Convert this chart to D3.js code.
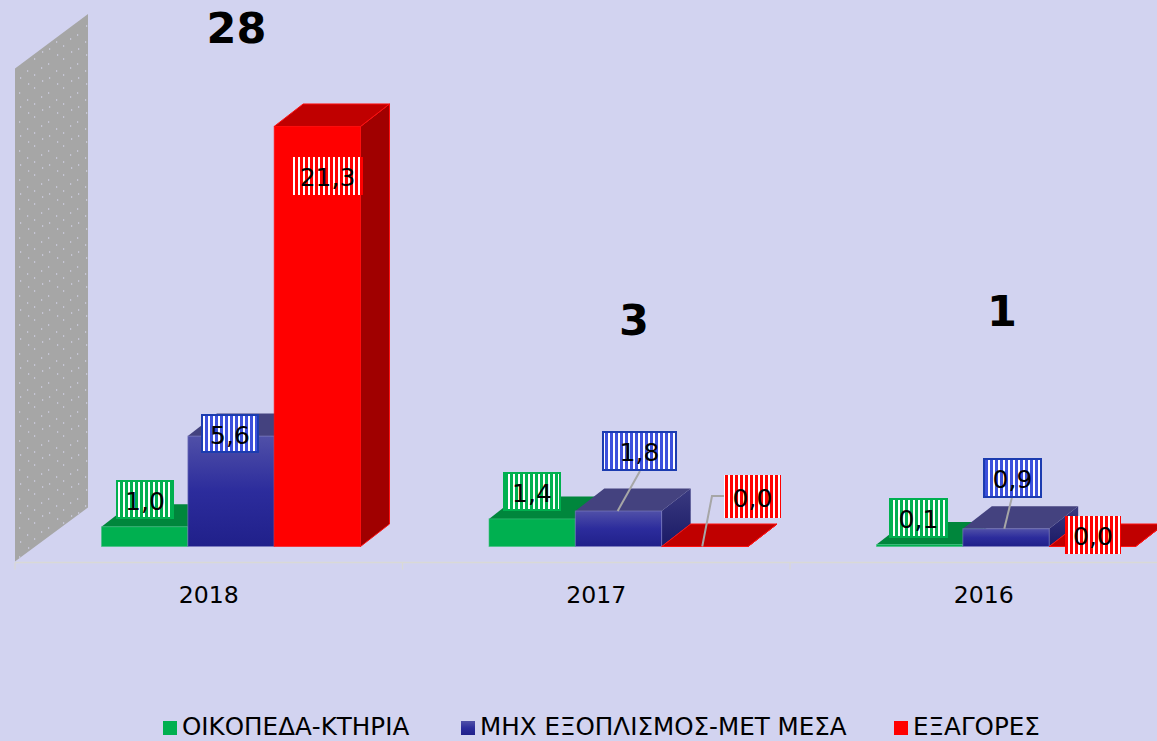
<!DOCTYPE html>
<html><head><meta charset="utf-8">
<script src="https://cdn.jsdelivr.net/npm/d3@7"></script>
<style>html,body{margin:0;padding:0;background:#D2D3F0;overflow:hidden}svg{display:block}text{font-family:"DejaVu Sans",sans-serif;fill:#000}</style>
</head><body><svg id="c" width="1157" height="741"></svg>
<script>
const years = ["2018","2017","2016"];
const seriesNames = ["ΟΙΚΟΠΕΔΑ-ΚΤΗΡΙΑ","ΜΗΧ ΕΞΟΠΛΙΣΜΟΣ-ΜΕΤ ΜΕΣΑ","ΕΞΑΓΟΡΕΣ"];
const oikopeda = [1.0,1.4,0.1];
const michanimata = [5.6,1.8,0.9];
const exagores = [21.3,0.0,0.0];
const totals = [28,3,1];
const seriesValues = [oikopeda,michanimata,exagores];

const W=1157,H=741,dx=29,dy=-22.5;
const svg=d3.select("#c");
const defs=svg.append("defs");
const x0=d3.scaleBand().domain(years).range([15,1177.5]);
const x1=d3.scaleBand().domain(seriesNames).range([86.5,345.5]);
const y=d3.scaleLinear().domain([0,25]).range([546.5,53.5]);
const fmt=v=>v.toFixed(1).replace(".",",");

// paints
const skins=[
 {front:"#00B050",top:"#00863C",side:"#006F32",edge:"#3FBF7F",stripe:"#00B050",border:"#00B050"},
 {front:"url(#gFront)",top:"#44427F",side:"url(#gSide)",edge:"#7F7FBF",stripe:"#3C50DC",border:"#1C3CB0"},
 {front:"#FF0000",top:"#C00000",side:"#A00000",edge:"#FF1010",stripe:"#FF0000",border:"none"}
];
const g1=defs.append("linearGradient").attr("id","gFront").attr("x1",0).attr("y1",0).attr("x2",0).attr("y2",1);
[[0,"#5050A8"],[.5,"#2C2C9C"],[1,"#20208A"]].forEach(s=>g1.append("stop").attr("offset",s[0]).attr("stop-color",s[1]));
const g2=defs.append("linearGradient").attr("id","gSide").attr("x1",0).attr("y1",0).attr("x2",0).attr("y2",1);
[[0,"#3A3A80"],[1,"#1A1A66"]].forEach(s=>g2.append("stop").attr("offset",s[0]).attr("stop-color",s[1]));
skins.forEach((s,i)=>{
  const p=defs.append("pattern").attr("id","st"+i).attr("patternUnits","userSpaceOnUse").attr("width",5).attr("height",5);
  p.append("rect").attr("width",5).attr("height",5).attr("fill","#fff");
  p.append("rect").attr("width",3).attr("height",5).attr("fill",s.stripe);
});
const dots=defs.append("pattern").attr("id","wallDots").attr("patternUnits","userSpaceOnUse").attr("width",29).attr("height",29)
  .attr("patternTransform","translate(15,0)");
dots.append("rect").attr("width",29).attr("height",29).attr("fill","#A6A6A6");
[[4,5],[19,0],[12,12],[26,9],[5,19],[19,16],[13,25],[27,22]].forEach(d=>dots.append("rect").attr("x",d[0]).attr("y",d[1]).attr("width",1.2).attr("height",2).attr("fill","#C4C4D2"));

// wall
const wx=x0.range()[0],wb=y(0)+15,wt=wb-(y(0)-y(25));
svg.append("polygon").attr("fill","url(#wallDots)")
  .attr("points",[[wx,wb],[wx,wt],[wx+73,wt-54.5],[wx+73,wb-54]].join(" "));

// axis
const axis=svg.append("g").attr("transform","translate(0,562.5)");
axis.append("line").attr("x1",15).attr("x2",W).attr("stroke","#D9D9D6").attr("stroke-width",1.5);
years.forEach(d=>{const x=x0(d);axis.append("line").attr("x1",x).attr("x2",x).attr("y1",0).attr("y2",7).attr("stroke","#D9D9D6").attr("stroke-width",1.2)});
axis.selectAll("text.t").data(years).join("text").attr("class","t")
  .attr("x",d=>x0(d)+x0.bandwidth()/2).attr("y",40).attr("text-anchor","middle").attr("font-size",23.6).text(d=>d);

// bars
const poly=pts=>pts.map(p=>p.join(",")).join(" ");
years.forEach((yr,yi)=>{
  seriesNames.forEach((nm,si)=>{
    const v=seriesValues[si][yi],s=skins[si];
    const l=x0(yr)+x1(nm),r=l+x1.bandwidth(),b=y(0),t=y(v);
    const g=svg.append("g");
    g.append("polygon").attr("points",poly([[r,b],[r,t],[r+dx,t+dy],[r+dx,b+dy]])).attr("fill",s.side).attr("stroke",si==2?s.edge:"none");
    g.append("polygon").attr("points",poly([[l,t],[r,t],[r+dx,t+dy],[l+dx,t+dy]])).attr("fill",s.top).attr("stroke",si==2?s.edge:"none");
    if(b-t>0.5) g.append("rect").attr("x",l).attr("y",t).attr("width",r-l).attr("height",b-t).attr("fill",s.front).attr("stroke",s.edge).attr("stroke-opacity",.6).attr("stroke-width",1);
  });
});

// data-label layout, indexed [year][series]: box left, top, width, height
const labelBoxes=[
 [[117,481,56,37],[202,415,56,37],[292,157,71,38]],
 [[504,473,56,37],[603,432,73,38],[724,475,57,43]],
 [[890,499,57,38],[984,459,57,38],[1065,516,56,38]]
];
// leader lines
const leaders=[
 {year:"2017",series:1,frac:.49,pts:[[640,471]]},
 {year:"2017",series:2,frac:.47,pts:[[712,496],[724,496]]},
 {year:"2016",series:1,frac:.48,pts:[[1012,497]]}
];
leaders.forEach(L=>{
  const nm=seriesNames[L.series],v=seriesValues[L.series][years.indexOf(L.year)];
  const sx=x0(L.year)+x1(nm)+x1.bandwidth()*L.frac;
  svg.append("polyline").attr("points",poly([[sx,y(v)],...L.pts])).attr("fill","none").attr("stroke","#A6A6A6").attr("stroke-width",2);
});
years.forEach((yr,yi)=>seriesNames.forEach((nm,si)=>{
  const [bx,by,bw,bh]=labelBoxes[yi][si],s=skins[si];
  svg.append("rect").attr("x",bx).attr("y",by).attr("width",bw).attr("height",bh)
    .attr("fill",`url(#st${si})`).attr("stroke",s.border).attr("stroke-width",si==2?0:2);
  svg.append("text").attr("x",bx+bw/2).attr("y",by+bh/2+10).attr("text-anchor","middle").attr("font-size",25).text(fmt(seriesValues[si][yi]));
}));

// totals
const totalPos=[[236.5,43],[634,335],[1002,326]];
svg.selectAll("text.tot").data(totals).join("text").attr("class","tot")
  .attr("x",(d,i)=>totalPos[i][0]).attr("y",(d,i)=>totalPos[i][1])
  .attr("text-anchor","middle").attr("font-weight","bold").attr("font-size",43).text(d=>d);

// legend
const legX=[163,461,894];
seriesNames.forEach((nm,i)=>{
  svg.append("rect").attr("x",legX[i]).attr("y",721).attr("width",14).attr("height",14).attr("fill",skins[i].front);
  svg.append("text").attr("x",legX[i]+19).attr("y",735).attr("font-size",24.6).text(nm);
});
</script></body></html>
